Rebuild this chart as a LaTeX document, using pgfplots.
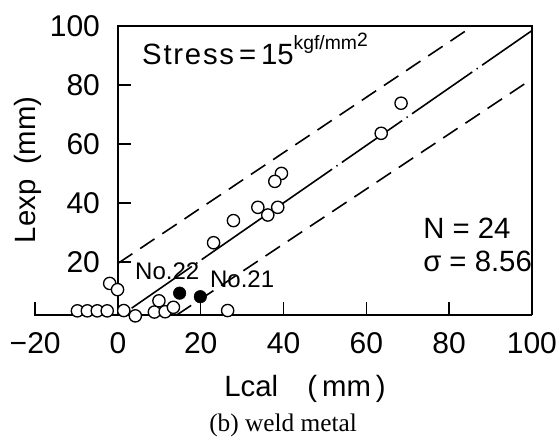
\documentclass[border=0pt]{standalone}
\usepackage{fontspec}
\setmainfont{Liberation Sans}
\newfontfamily\capfont{Liberation Serif}
\usepackage{pgfplots}
\pgfplotsset{compat=1.18}

\begin{document}
\begin{tikzpicture}[font=\fontsize{22}{26}\selectfont]
\begin{axis}[
    x=3.105pt, y=2.2125pt,
    xmin=-20, xmax=100, ymin=2, ymax=100,
    axis line style={draw=none},
    clip=false,
    xtick={-20,0,20,40,60,80,100},
    xticklabels={−20,0,20,40,60,80,100},
    ytick={20,40,60,80,100},
    yticklabels={20,40,60,80,100},
    tick label style={font=\fontsize{22.5}{26}\selectfont},
    xticklabel style={inner sep=0pt, anchor=north, yshift=-12.75pt},
    yticklabel style={inner sep=0pt, anchor=east, xshift=48.75pt},
    major tick length=0pt,
    tick style={draw=none},
]
% frame and axis lines
\draw[line width=1.1pt] (axis cs:0,2) -- (axis cs:0,100) -- (axis cs:100,100) -- (axis cs:100,2);
\draw[line width=1.1pt] (axis cs:-20,6.4) -- (axis cs:-20,2) -- (axis cs:100,2);
\draw[line width=1.1pt] (axis cs:20,2) -- (axis cs:20,6.4);
\draw[line width=1.1pt] (axis cs:40,2) -- (axis cs:40,6.4);
\draw[line width=1.1pt] (axis cs:60,2) -- (axis cs:60,6.4);
\draw[line width=1.1pt] (axis cs:80,2) -- (axis cs:80,6.4);
\draw[line width=1.1pt] (axis cs:0,20) -- (axis cs:3.14,20);
\draw[line width=1.1pt] (axis cs:0,40) -- (axis cs:3.14,40);
\draw[line width=1.1pt] (axis cs:0,60) -- (axis cs:3.14,60);
\draw[line width=1.1pt] (axis cs:0,80) -- (axis cs:3.14,80);

% scatter band lines
\addplot[line width=1.2pt, dash pattern=on 13pt off 7pt] coordinates {(0,19.5) (85.8,100)};
\addplot[line width=1.2pt, dash pattern=on 13pt off 7pt] coordinates {(14.2,2) (100,82)};
\addplot[line width=1.2pt, dash pattern=on 55pt off 4pt on 1pt off 4pt] coordinates {(3.3,4.3) (100,98.4)};

% data
\addplot[only marks, mark=*, mark size=4.6pt, mark options={fill=white, draw=black, line width=1pt}] coordinates {
    (68.4,73.8) (63.6,63.6) (39.5,50.0) (37.9,47.3) (38.6,38.5) (36.2,35.9)
    (33.8,38.5) (27.9,34.0) (23.1,26.5) (-2.0,12.7) (-0.1,10.6)
    (-9.8,3.4) (-7.4,3.4) (-5.0,3.4) (-2.6,3.4) (1.4,3.5) (4.2,1.7)
    (8.8,3.0) (9.9,6.8) (11.4,3.1) (13.4,4.6) (26.5,3.5)
};
\addplot[only marks, mark=*, mark size=4.7pt, black] coordinates {(14.9,9.4) (19.9,8.2)};

% texts
\node[anchor=base west, inner sep=0pt] at (axis cs:5.8,86.8)
    {{\addfontfeature{LetterSpace=6}Stress}\,=\,15\raisebox{11.5pt}{\fontsize{14.5}{15}\selectfont kgf/mm\raisebox{2.5pt}{2}}};
\node[anchor=base west, inner sep=0pt] at (axis cs:73.7,28.1) {N = 24};
\node[anchor=base west, inner sep=0pt] at (axis cs:73.7,16.6) {σ = 8.56};
\node[anchor=base west, inner sep=0pt, font=\fontsize{18}{20}\selectfont] at (axis cs:4.1,13.9) {No.22};
\node[anchor=base west, inner sep=0pt, font=\fontsize{18}{20}\selectfont] at (axis cs:22.2,11.2) {No.21};
\node[rotate=90, anchor=center, inner sep=0pt] at (axis cs:-21.7,51.2) {Lexp\enspace(mm)};
\node[anchor=base, inner sep=0pt] at (axis cs:45.2,-25.7) {Lcal\quad(\,mm\,)};
\node[anchor=base, inner sep=0pt, font={\capfont\fontsize{19}{22}\selectfont}] at (axis cs:39.9,-37.6) {(b) weld metal};

\coordinate (bl) at (axis cs:-28.5,-41.7);
\coordinate (tr) at (axis cs:106.8,108.8);
\end{axis}
\pgfresetboundingbox
\path (bl) rectangle (tr);
\end{tikzpicture}
\end{document}
